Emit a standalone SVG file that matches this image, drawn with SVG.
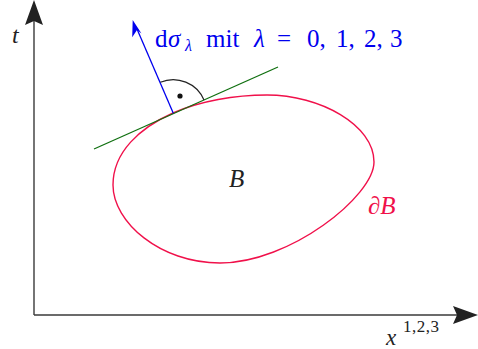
<svg xmlns="http://www.w3.org/2000/svg" width="478" height="349" viewBox="0 0 478 349">
<style>
.axis{stroke:#3a3a3a;stroke-width:1.4;fill:none}
.m{font-family:"Liberation Serif","DejaVu Serif",serif;font-style:italic}
.r{font-family:"Liberation Serif","DejaVu Serif",serif}
</style>
<rect width="478" height="349" fill="#fff"/>
<g id="axes">
<line class="axis" x1="34" y1="315" x2="34" y2="20"/>
<polygon points="34,0 43,25 34,21 25,25" fill="#222"/>
<line class="axis" x1="34" y1="315" x2="460" y2="315"/>
<polygon points="478,315 453,324 457,315 453,306" fill="#222"/>
</g>
<g id="region">
<path d="M173,113 C200,101 235,95 267,95 C320,95 374,125 374,162 C374,196 290,263 220,263 C160,263 113,222 113,185 C113,152 140,127.7 173,113 Z" fill="none" stroke="#f0104a" stroke-width="1.4"/>
</g>
<g id="connectors">
<line x1="94" y1="149" x2="278" y2="67" stroke="#0f6f0f" stroke-width="1.3"/>
<line x1="173.3" y1="113.3" x2="137" y2="29" stroke="#0000ee" stroke-width="1.3"/>
<polygon points="132.7,20 141.5,33.5 137,30 132.2,37.2" fill="#0000ee"/>
<path d="M160.3,82.3 A33.5,33.5 0 0 1 204,100" fill="none" stroke="#222" stroke-width="1.2"/>
<circle cx="180" cy="96" r="2.6" fill="#111"/>
</g>
<g id="labels">
<text class="m" x="12" y="43" font-size="24" fill="#222">t</text>
<text y="46.5" font-size="25" fill="#0000ee"><tspan class="r" x="155">d</tspan><tspan class="m" x="168">σ</tspan><tspan class="m" x="185" y="51" font-size="16">λ</tspan><tspan class="r" x="206" y="46.5">mit</tspan><tspan class="m" x="254">λ</tspan><tspan class="r" x="277">=</tspan><tspan class="r" x="307">0,</tspan><tspan class="r" x="336">1,</tspan><tspan class="r" x="364">2,</tspan><tspan class="r" x="390">3</tspan></text>
<text class="m" x="229" y="187" font-size="25" fill="#222">B</text>
<text class="m" x="368" y="214" font-size="25" fill="#f0104a">∂B</text>
<text y="345" fill="#222"><tspan class="m" x="386" font-size="23">x</tspan><tspan class="r" x="403" y="332" font-size="17" letter-spacing="0.5">1,2,3</tspan></text>
</g>
</svg>
